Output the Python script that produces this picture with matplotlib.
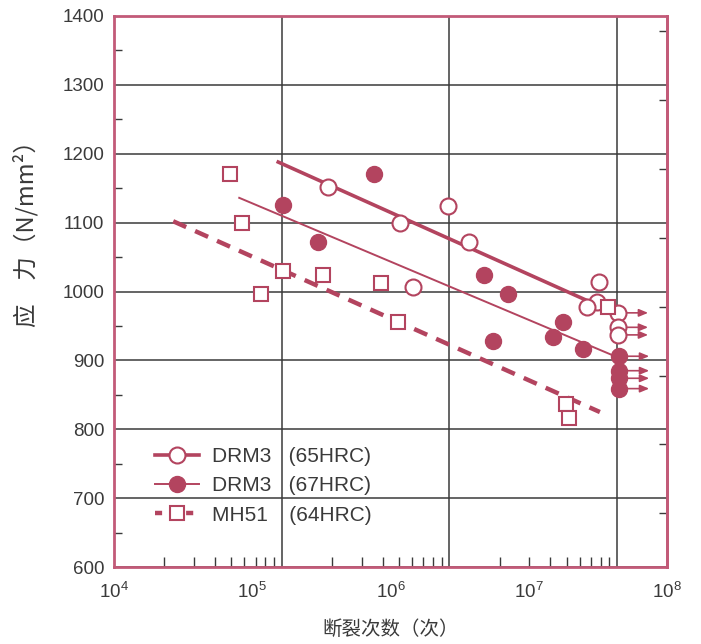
import matplotlib
matplotlib.use("Agg")
import matplotlib.pyplot as plt
from matplotlib.lines import Line2D
import numpy as np

plt.rcParams['font.family'] = ['Liberation Sans', 'Noto Sans CJK SC', 'DejaVu Sans']
plt.rcParams['mathtext.default'] = 'regular'

# DRM3 (65HRC) - open circles
drm65_n = [3.51e5, 1.17e6, 2.59e6, 3.72e6, 1.46e6, 3.22e7, 3.13e7, 2.65e7]
drm65_s = [1152, 1100, 1124, 1072, 1007, 1014, 985, 977]
drm65_run_n = [4.44e7, 4.44e7, 4.44e7]
drm65_run_s = [969, 948, 937]
fit65_n = [1.50e5, 2.77e7]
fit65_s = [1189, 985]

# DRM3 (67HRC) - filled circles
drm67_n = [1.66e5, 2.97e5, 7.60e5, 4.77e6, 7.11e6, 5.54e6, 1.76e7, 1.49e7, 2.48e7]
drm67_s = [1125, 1072, 1170, 1024, 996, 928, 956, 934, 916]
drm67_run_n = [4.52e7, 4.52e7, 4.52e7, 4.52e7]
drm67_run_s = [906, 885, 874, 859]
fit67_n = [8.05e4, 4.44e7]
fit67_s = [1136, 904]

# MH51 (64HRC) - open squares
mh51_n = [6.90e4, 8.39e4, 1.66e5, 1.15e5, 3.26e5, 8.54e5, 1.14e6, 3.72e7, 1.86e7, 1.96e7]
mh51_s = [1170, 1100, 1030, 996, 1024, 1013, 956, 977, 837, 816]
fit51_n = [2.68e4, 3.27e7]
fit51_s = [1102, 825]

labels = ['DRM3   (65HRC)', 'DRM3   (67HRC)', 'MH51   \u2009(64HRC)']
y_ticks = np.arange(600, 1401, 100)
x_ticks = [1e4, 1e5, 1e6, 1e7, 1e8]

C = '#b3445f'
FRAME = '#c25a78'
TXT = '#3a3a3a'
GRID = '#3a3a3a'

fig = plt.figure(figsize=(7.01, 6.44), dpi=100)
ax = fig.add_axes([114/701, 1 - 567/644, 553/701, 551/644])

# log "graph paper" behind the data (its decades do not line up with the labels)
paper = ax.twiny()
paper.set_xscale('log')
paper.set_xlim(1, 10 ** (553 / 167.7))
paper.xaxis.set_ticks_position('bottom')
paper.set_xticks([10, 100, 1000])
paper.set_xticks([m * d for d in [1, 10, 100] for m in range(2, 10)], minor=True)
paper.tick_params(axis='x', which='major', length=0, labelbottom=False, labeltop=False)
paper.tick_params(axis='x', which='minor', direction='in', length=7, width=1, color=GRID,
                  labelbottom=False, labeltop=False)
paper.grid(True, which='major', axis='x', color=GRID, lw=1.1)
for sp in paper.spines.values():
    sp.set_visible(False)
paper.set_zorder(0)
ax.set_zorder(1)
ax.patch.set_visible(False)

ax.set_xscale('log')
ax.set_xlim(1e4, 1e8)
ax.set_ylim(600, 1400)
ax.set_xticks(x_ticks)
ax.set_xticklabels(['$10^{%d}$' % int(np.log10(v)) for v in x_ticks])
ax.xaxis.set_minor_locator(matplotlib.ticker.NullLocator())
ax.set_yticks(y_ticks)
ax.set_yticks(np.arange(650, 1400, 100), minor=True)
ax.tick_params(axis='x', which='major', length=0, pad=11, labelsize=13.5, labelcolor=TXT)
ax.tick_params(axis='y', which='major', length=0, pad=7, labelsize=13.5, labelcolor=TXT)
ax.tick_params(axis='y', which='minor', direction='in', length=6, width=1, color=GRID)
ax.grid(True, which='major', axis='y', color=GRID, lw=1.1)
for sp in ax.spines.values():
    sp.set_color(FRAME)
    sp.set_linewidth(2)

right = ax.secondary_yaxis('right')
right.set_yticks(np.arange(678, 1400, 100))
right.tick_params(direction='in', length=6, width=1, color=GRID, labelright=False)
right.spines['right'].set_color(FRAME)
right.spines['right'].set_linewidth(2)

# fitted lines
ax.plot(fit65_n, fit65_s, color=C, lw=2.6, solid_capstyle='butt', zorder=2)
ax.plot(fit67_n, fit67_s, color=C, lw=1.4, zorder=2)
ax.plot(fit51_n, fit51_s, color=C, lw=3.2, dashes=(3.2, 2.2), zorder=2)

# run-out arrows
for n, s in zip(drm65_run_n + drm67_run_n, drm65_run_s + drm67_run_s):
    ax.annotate('', xy=(n, s), xytext=(21.5, 0), textcoords='offset points',
                arrowprops=dict(arrowstyle='<|-,head_length=0.6,head_width=0.25',
                                color=C, lw=1.2, shrinkA=0, shrinkB=0, mutation_scale=9),
                zorder=3)

ax.plot(drm65_n + drm65_run_n, drm65_s + drm65_run_s, 'o', ms=11.5, mfc='white',
        mec=C, mew=1.5, zorder=5)
ax.plot(drm67_n + drm67_run_n, drm67_s + drm67_run_s, 'o', ms=11.5, mfc=C,
        mec=C, mew=1.0, zorder=5)
ax.plot(mh51_n, mh51_s, 's', ms=9.8, mfc='white', mec=C, mew=1.5, zorder=5)

handles = [
    Line2D([], [], color=C, lw=2.6, marker='o', ms=11.5, mfc='white', mec=C, mew=1.5),
    Line2D([], [], color=C, lw=1.4, marker='o', ms=11.5, mfc=C, mec=C),
    Line2D([], [], color=C, lw=3.2, dashes=(1.6, 1.9), marker='s', ms=9.8, mfc='white',
           mec=C, mew=1.5),
]
leg = ax.legend(handles, labels, loc='upper left', bbox_to_anchor=(0.075, 0.218),
                frameon=False, fontsize=15, handlelength=2.1, handletextpad=0.6,
                labelspacing=0.5, borderpad=0, borderaxespad=0)
for t in leg.get_texts():
    t.set_color(TXT)

ax.set_ylabel('应　力（N/mm²）', fontsize=17, color=TXT,
              family=['Noto Sans CJK SC', 'DejaVu Sans'])
ax.yaxis.set_label_coords(-0.137, 0.615)
ax.set_xlabel('断裂次数（次）', fontsize=14, color=TXT, labelpad=12,
              family=['Noto Sans CJK SC', 'DejaVu Sans'])

fig.savefig('out.png', dpi=100)
